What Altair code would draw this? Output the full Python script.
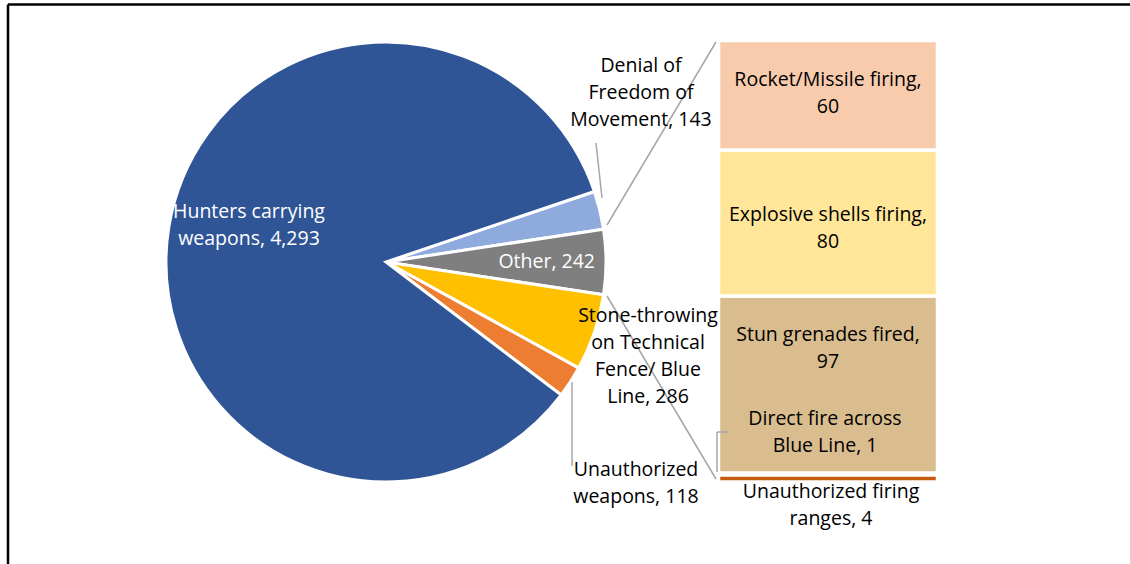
import math
import altair as alt
import pandas as pd

# ---- data ----
pie_categories = ["Denial of Freedom of Movement", "Other",
                  "Stone-throwing on Technical Fence/ Blue Line",
                  "Unauthorized weapons", "Hunters carrying weapons"]
pie_values = [143, 242, 286, 118, 4293]
pie_colors = ["#8FAADC", "#7F7F7F", "#FFC000", "#ED7D31", "#2F5597"]

bar_categories = ["Unauthorized firing ranges", "Direct fire across Blue Line",
                  "Stun grenades fired", "Explosive shells firing",
                  "Rocket/Missile firing"]
bar_values = [4, 1, 97, 80, 60]
bar_colors = ["#C55A11", "#D9BC8C", "#DABD8E", "#FFE699", "#F8CBAD"]

FONT = "Open Sans"
FS = 19.5
LH = 27
TXT = "#000000"
GRAY = "#A6A6A6"

W, H = 1130, 564
color_scale = alt.Scale(domain=pie_categories + bar_categories,
                        range=pie_colors + bar_colors)

# ---- pie ----
pie_df = pd.DataFrame({"cat": pie_categories, "val": pie_values,
                       "ord": list(range(len(pie_values)))})
total = sum(pie_values)
start = math.radians(90 - (pie_values[1] / 2 + pie_values[0]) / total * 360)
pie = alt.Chart(pie_df).mark_arc(radius=220, stroke="white", strokeWidth=3).encode(
    theta=alt.Theta("val:Q", stack=True,
                    scale=alt.Scale(range=[start, start + 2 * math.pi])),
    color=alt.Color("cat:N", scale=color_scale, legend=None),
    order=alt.Order("ord:Q"),
    x=alt.value(386), y=alt.value(262),
)

# ---- bar of pie ----
bar_df = pd.DataFrame({"cat": bar_categories, "val": bar_values,
                       "ord": list(range(len(bar_values)))})
bar = alt.Chart(bar_df).transform_stack(
    stack="val", groupby=[], as_=["v0", "v1"], sort=[alt.SortField("ord")]
).mark_rect(stroke="white", strokeWidth=3.5).encode(
    x=alt.value(718.5), x2=alt.value(937.5),
    y=alt.Y("v0:Q", axis=None,
            scale=alt.Scale(domain=[0, sum(bar_values)], range=[482, 40.5])),
    y2="v1:Q",
    color=alt.Color("cat:N", scale=color_scale, legend=None),
)

one = pd.DataFrame({"k": [0]})


def rule(x1, y1, x2, y2, color=GRAY, width=1.5):
    return alt.Chart(one).mark_rule(color=color, strokeWidth=width).encode(
        x=alt.value(x1), y=alt.value(y1), x2=alt.value(x2), y2=alt.value(y2))


def label(lines, x, y, align="center", color=TXT):
    return alt.Chart(one).mark_text(
        text=lines, font=FONT, fontSize=FS, lineHeight=LH, align=align,
        baseline="middle", color=color).encode(x=alt.value(x), y=alt.value(y))


pv = dict(zip(pie_categories, pie_values))
bv = dict(zip(bar_categories, bar_values))

labels = [
    label(["Hunters carrying", f"weapons, {pv['Hunters carrying weapons']:,}"], 249, 212, color="white"),
    label([f"Other, {pv['Other']}"], 595, 262, align="right", color="white"),
    label(["Denial of", "Freedom of", f"Movement, {pv['Denial of Freedom of Movement']}"], 641, 66),
    label(["Stone-throwing", "on Technical", "Fence/ Blue",
           f"Line, {pv['Stone-throwing on Technical Fence/ Blue Line']}"], 648, 316),
    label(["Unauthorized", f"weapons, {pv['Unauthorized weapons']}"], 636, 470),
    label(["Rocket/Missile firing,", f"{bv['Rocket/Missile firing']}"], 828, 80),
    label(["Explosive shells firing,", f"{bv['Explosive shells firing']}"], 828, 215),
    label(["Stun grenades fired,", f"{bv['Stun grenades fired']}"], 828, 335),
    label(["Direct fire across", f"Blue Line, {bv['Direct fire across Blue Line']}"], 825, 419),
    label(["Unauthorized firing", f"ranges, {bv['Unauthorized firing ranges']}"], 831, 492),
]

lines = [
    rule(596, 143, 602, 198),
    rule(572, 382, 572, 466),
    rule(728, 432, 717, 432),
    rule(717, 432, 717, 472),
    rule(607, 225, 716, 42),
    rule(607, 296, 716, 479),
    rule(8, 4.5, 1130, 4.5, color="black", width=2.5),
    rule(8, 4.5, 8, 564, color="black", width=2.5),
]

chart = alt.layer(pie, bar, *lines, *labels).properties(
    width=W, height=H, autosize=alt.AutoSizeParams(type="none"), padding=0,
    background="white",
).configure_view(stroke=None)

chart.save("out.html", embed_options={"renderer": "svg", "actions": False})
